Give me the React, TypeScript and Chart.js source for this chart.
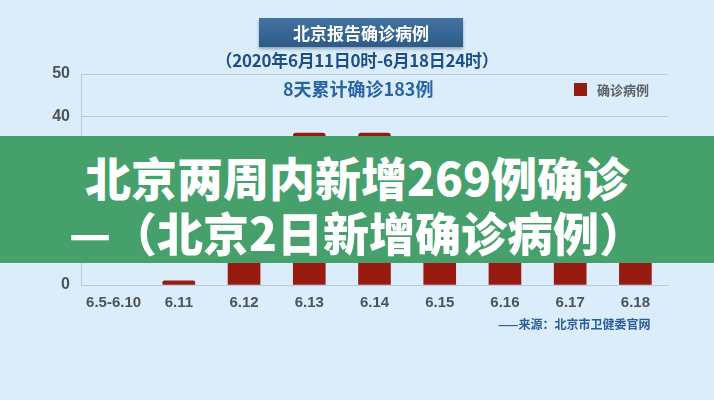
import React, { useEffect, useRef } from "react";
import { Chart, registerables } from "chart.js";

Chart.register(...registerables);

const categories = ["6.5-6.10", "6.11", "6.12", "6.13", "6.14", "6.15", "6.16", "6.17", "6.18"];
const confirmedCases = [0, 1, 6, 36, 36, 27, 31, 21, 25];
const seriesName = "确诊病例";
const yTicks = [0, 10, 20, 30, 40, 50];

const titleText = "北京报告确诊病例";
const subtitleText = "（2020年6月11日0时-6月18日24时）";
const totalText = "8天累计确诊183例";
const sourceText = "——来源：北京市卫健委官网";
const bannerLine1 = "北京两周内新增269例确诊";
const bannerLine2 = "—（北京2日新增确诊病例）";

const BG = "#dbedfb";
const BAR = "#981b12";
const GRID = "#b6cbdf";
const TICK = "#4e5358";
const CJK = "'Noto Sans CJK SC', 'Noto Sans', sans-serif";
const LAT = "'Liberation Sans', Arial, sans-serif";

export default function App() {
  const ref = useRef<HTMLCanvasElement | null>(null);

  useEffect(() => {
    if (!ref.current) return;
    const chart = new Chart(ref.current, {
      type: "bar",
      data: {
        labels: categories,
        datasets: [
          {
            label: seriesName,
            data: confirmedCases,
            backgroundColor: (c: any) => (c.raw > 0 ? BAR : "rgba(0,0,0,0)"),
            barThickness: 32,
            borderRadius: (c: any) =>
              c.raw > 0 ? { topLeft: 3, topRight: 3, bottomLeft: 0, bottomRight: 0 } : 0,
            borderSkipped: "bottom",
          },
        ],
      },
      options: {
        responsive: false,
        animation: false,
        layout: { padding: { top: 74, right: 46, left: 0, bottom: 0 } },
        plugins: {
          legend: { display: false },
          tooltip: { enabled: false },
        },
        scales: {
          y: {
            min: yTicks[0],
            max: yTicks[yTicks.length - 1],
            afterBuildTicks: (s: any) => {
              s.ticks = yTicks.map((v) => ({ value: v }));
            },
            ticks: {
              color: TICK,
              font: { family: LAT, size: 16, weight: "bold" },
              padding: 11,
            },
            grid: { color: GRID, drawTicks: false, lineWidth: 1 },
            border: { display: true, color: GRID },
            afterFit: (s: any) => {
              s.width = 81;
            },
          },
          x: {
            grid: { display: false, drawTicks: false },
            border: { display: true, color: GRID },
            ticks: {
              color: TICK,
              font: { family: LAT, size: 15, weight: "bold" },
              padding: 9,
              maxRotation: 0,
              autoSkip: false,
            },
            afterFit: (s: any) => {
              s.height = 115;
            },
          },
        },
      },
    });
    return () => chart.destroy();
  }, []);

  const abs = (extra: React.CSSProperties): React.CSSProperties => ({
    position: "absolute",
    whiteSpace: "nowrap",
    pointerEvents: "none",
    ...extra,
  });

  return (
    <div
      style={{
        position: "fixed",
        left: 0,
        top: 0,
        width: 714,
        height: 400,
        background: BG,
        overflow: "hidden",
      }}
    >
      <canvas ref={ref} width={714} height={400} style={{ position: "absolute", left: 0, top: 0, width: 714, height: 400 }} />

      {/* title box */}
      <div
        style={abs({
          left: 259,
          top: 18,
          width: 204,
          height: 29,
          background: "linear-gradient(180deg, #4573a1 0%, #2c5a89 100%)",
          boxShadow: "0 2px 3px rgba(40,70,110,0.45)",
          color: "#ffffff",
          fontFamily: CJK,
          fontWeight: 700,
          fontSize: 17,
          lineHeight: "29px",
          textAlign: "center",
        })}
      >
        {titleText}
      </div>

      <div
        style={abs({
          left: 0,
          width: 714,
          top: 51,
          fontFamily: CJK,
          fontWeight: 700,
          fontSize: 17,
          lineHeight: "18px",
          color: "#1f4f88",
          textAlign: "center",
          letterSpacing: -0.3,
        })}
      >
        {subtitleText}
      </div>

      <div
        style={abs({
          left: 283,
          width: 150,
          top: 79,
          fontFamily: CJK,
          fontWeight: 700,
          fontSize: 18,
          lineHeight: "19px",
          color: "#2a63a6",
          textAlign: "center",
        })}
      >
        {totalText}
      </div>

      {/* legend */}
      <div style={abs({ left: 574, top: 83, width: 13, height: 13, background: BAR })} />
      <div
        style={abs({
          left: 597,
          top: 83,
          fontFamily: CJK,
          fontWeight: 700,
          fontSize: 13,
          lineHeight: "14px",
          color: "#5c6167",
        })}
      >
        {seriesName}
      </div>

      {/* source */}
      <div
        style={abs({
          left: 498,
          top: 317,
          fontFamily: CJK,
          fontWeight: 700,
          fontSize: 12,
          lineHeight: "13px",
          color: "#2b5c9c",
        })}
      >
        {sourceText}
      </div>

      {/* green banner */}
      <div
        style={abs({
          left: 0,
          top: 136,
          width: 714,
          height: 127,
          background: "#45a06b",
        })}
      />
      <div
        style={abs({
          left: 0,
          width: 714,
          top: 153,
          fontFamily: CJK,
          fontWeight: 900,
          fontSize: 46,
          lineHeight: "46px",
          color: "#ffffff",
          textAlign: "center",
        })}
      >
        {bannerLine1}
      </div>
      <div
        style={abs({
          left: 0,
          width: 714,
          top: 208,
          fontFamily: CJK,
          fontWeight: 900,
          fontSize: 46,
          lineHeight: "46px",
          color: "#ffffff",
          textAlign: "center",
        })}
      >
        {bannerLine2}
      </div>
    </div>
  );
}
